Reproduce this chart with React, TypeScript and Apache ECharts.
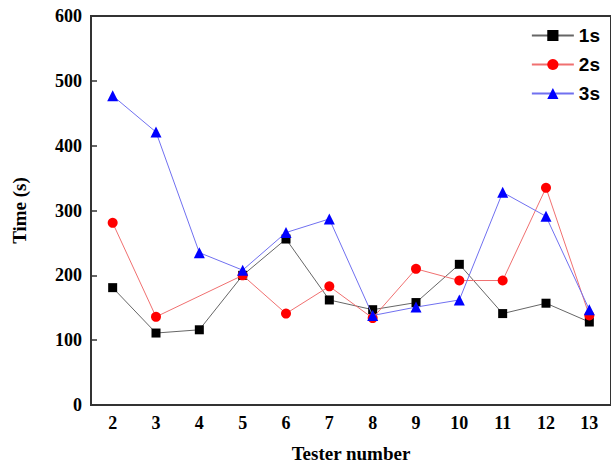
import React, { useEffect, useRef } from "react";
import * as echarts from "echarts";

const testers = ["2", "3", "4", "5", "6", "7", "8", "9", "10", "11", "12", "13"];
const series1s = [181, 111, 116, 200, 256, 162, 147, 158, 217, 141, 157, 128];
const series2s = [281, 136, null, 200, 141, 183, 134, 210, 192, 192, 335, 138];
const series3s = [477, 421, 235, 208, 266, 287, 138, 151, 162, 328, 291, 147];
const yTicks = [0, 100, 200, 300, 400, 500, 600];

const serif = '"Liberation Serif", "Times New Roman", serif';
const sans = '"Liberation Sans", Arial, sans-serif';

export default function App() {
  const ref = useRef<HTMLDivElement>(null);
  useEffect(() => {
    if (!ref.current) return;
    const chart = echarts.init(ref.current, null, { renderer: "svg" });
    chart.setOption({
      animation: false,
      backgroundColor: "#ffffff",
      grid: {
        left: 91,
        top: 16,
        right: -2,
        bottom: 63,
        show: true,
        borderColor: "#333333",
        borderWidth: 2,
        containLabel: false,
      },
      legend: {
        orient: "vertical",
        right: 6,
        top: 21,
        itemWidth: 42,
        itemHeight: 14,
        itemGap: 10,
        textStyle: { fontFamily: sans, fontWeight: "bold", fontSize: 19, color: "#000" },
        data: ["1s", "2s", "3s"],
      },
      xAxis: {
        type: "category",
        data: testers,
        boundaryGap: true,
        name: "Tester number",
        nameLocation: "middle",
        nameGap: 39,
        nameTextStyle: { fontFamily: serif, fontWeight: "bold", fontSize: 19, color: "#000" },
        axisLine: { lineStyle: { color: "#333", width: 2 } },
        axisTick: { inside: true, alignWithLabel: true, length: 6, lineStyle: { color: "#333", width: 1.5 } },
        axisLabel: {
          fontFamily: serif,
          fontWeight: "bold",
          fontSize: 18,
          color: "#000",
          margin: 9,
          interval: 0,
        },
        splitLine: { show: false },
      },
      yAxis: {
        type: "value",
        min: yTicks[0],
        max: yTicks[yTicks.length - 1],
        interval: 100,
        name: "Time (s)",
        nameLocation: "middle",
        nameGap: 62,
        nameRotate: 90,
        nameTextStyle: { fontFamily: serif, fontWeight: "bold", fontSize: 19, color: "#000" },
        axisLine: { show: true, lineStyle: { color: "#333", width: 2 } },
        axisTick: { show: true, inside: true, length: 6, lineStyle: { color: "#333", width: 1.5 } },
        axisLabel: { fontFamily: serif, fontWeight: "bold", fontSize: 18, color: "#000", margin: 9 },
        splitLine: { show: false },
      },
      series: [
        {
          name: "1s",
          type: "line",
          data: series1s,
          symbol: "rect",
          symbolSize: 9,
          color: "#000000",
          itemStyle: { color: "#000000" },
          lineStyle: { color: "#666666", width: 1 },
          z: 3,
        },
        {
          name: "2s",
          type: "line",
          data: series2s,
          connectNulls: true,
          symbol: "circle",
          symbolSize: 10,
          color: "#ff0000",
          itemStyle: { color: "#ff0000" },
          lineStyle: { color: "#f07070", width: 1 },
          z: 4,
        },
        {
          name: "3s",
          type: "line",
          data: series3s,
          symbol: "triangle",
          symbolSize: 11,
          color: "#0000ff",
          itemStyle: { color: "#0000ff" },
          lineStyle: { color: "#7070f0", width: 1 },
          z: 5,
        },
      ],
    });
    return () => chart.dispose();
  }, []);
  return (
    <div
      ref={ref}
      style={{ position: "absolute", left: 0, top: 0, width: 611, height: 468 }}
    />
  );
}
